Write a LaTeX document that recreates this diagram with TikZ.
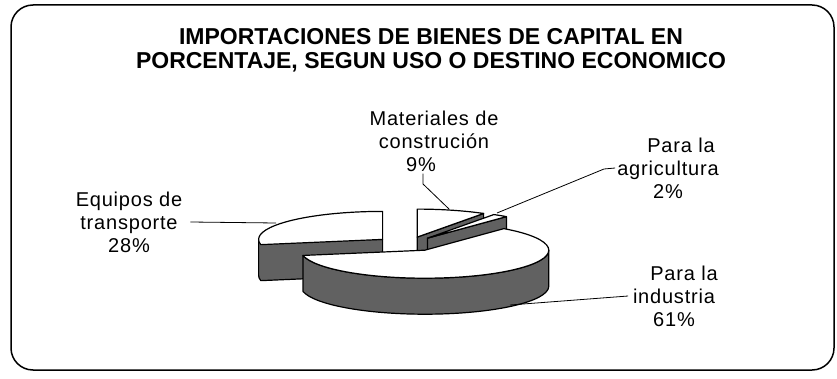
\documentclass[tikz,border=0pt]{standalone}
\usepackage{fontspec}
\setmainfont{Liberation Sans}
\newfontfamily\lblfont[LetterSpace=4]{Liberation Sans}
\begin{document}
\begin{tikzpicture}[x=1pt,y=1pt,
    pieside/.style={fill=black!62,draw=black,line width=1.2pt,line join=round},
    pietop/.style={fill=white,draw=black,line width=1.2pt,line join=round},
    conn/.style={draw=black,line width=0.8pt},
    lbl/.style={align=center,font=\lblfont\fontsize{20}{23}\selectfont,inner sep=2pt},
    ttl/.style={align=center,font=\bfseries\fontsize{23}{24}\selectfont}]
    \useasboundingbox (0,0) rectangle (837,378);
    \draw[line width=1.5pt,rounded corners=22pt] (11,8) rectangle (834,373);
    \node[ttl] (title) at (431,328) {IMPORTACIONES DE BIENES DE CAPITAL EN\\PORCENTAJE, SEGUN USO O DESTINO ECONOMICO};

    % slice centres
    \coordinate (ctra) at (382.6,138.6);
    \coordinate (cmat) at (417.2,140.9);
    \coordinate (cagr) at (427.4,139.8);
    \coordinate (cind) at (424.8,127.8);

    % Equipos de transporte
    \draw[pieside] (ctra) -- ++(180:124 and 28) -- ++(0,-36)
        arc[start angle=180,end angle=190.8,x radius=124,y radius=28]
        -- ([yshift=-36pt]ctra) -- cycle;
    \draw[pietop] (ctra) -- ++(90:124 and 28)
        arc[start angle=90,end angle=190.8,x radius=124,y radius=28] -- cycle;

    % Materiales de construcion
    \draw[pieside] (cmat) -- ++(57.6:124 and 28) -- ++(0,-36) -- ([yshift=-36pt]cmat) -- cycle;
    \draw[pietop] (cmat) -- ++(90:124 and 28)
        arc[start angle=90,end angle=57.6,x radius=124,y radius=28] -- cycle;

    % Para la agricultura
    \draw[pieside] (cagr) -- ++(50.4:124 and 28) -- ++(0,-36) -- ([yshift=-36pt]cagr) -- cycle;
    \draw[pietop] (cagr) -- ++(57.6:124 and 28)
        arc[start angle=57.6,end angle=50.4,x radius=124,y radius=28] -- cycle;

    % Para la industria
    \draw[pieside] (cind) ++(-169.2:124 and 28)
        arc[start angle=-169.2,end angle=0,x radius=124,y radius=28] -- ++(0,-36)
        arc[start angle=0,end angle=-169.2,x radius=124,y radius=28] -- cycle;
    \draw[pietop] (cind) -- ++(50.4:124 and 28)
        arc[start angle=50.4,end angle=-169.2,x radius=124,y radius=28] -- cycle;

    % labels
    \node[lbl] (ltra) at (129,156) {Equipos de\\transporte\\28\%};
    \node[lbl] (lmat) at (434,237) {Materiales de\\construción\\9\%\hspace*{26pt}};
    \node[lbl] (lagr) at (668,210) {\hspace*{26pt}Para la\\agricultura\\2\%};
    \node[lbl] (lind) at (674,82) {\hspace*{20pt}Para la\\industria\\61\%};

    \coordinate (ttra) at (276,155);
    \coordinate (mbend) at (423,194);
    \coordinate (tmat) at (449,169);
    \coordinate (abend) at (604,209);
    \coordinate (tagr) at (497,165);
    \coordinate (tind) at (510,73);
    \draw[conn] ([xshift=6pt]ltra.east) -- (ttra);
    \draw[conn] (lmat.south -| mbend) -- (mbend) -- (tmat);
    \draw[conn] (lagr.west) -- (abend) -- (tagr);
    \draw[conn] (lind.west) -- (tind);
\end{tikzpicture}
\end{document}
